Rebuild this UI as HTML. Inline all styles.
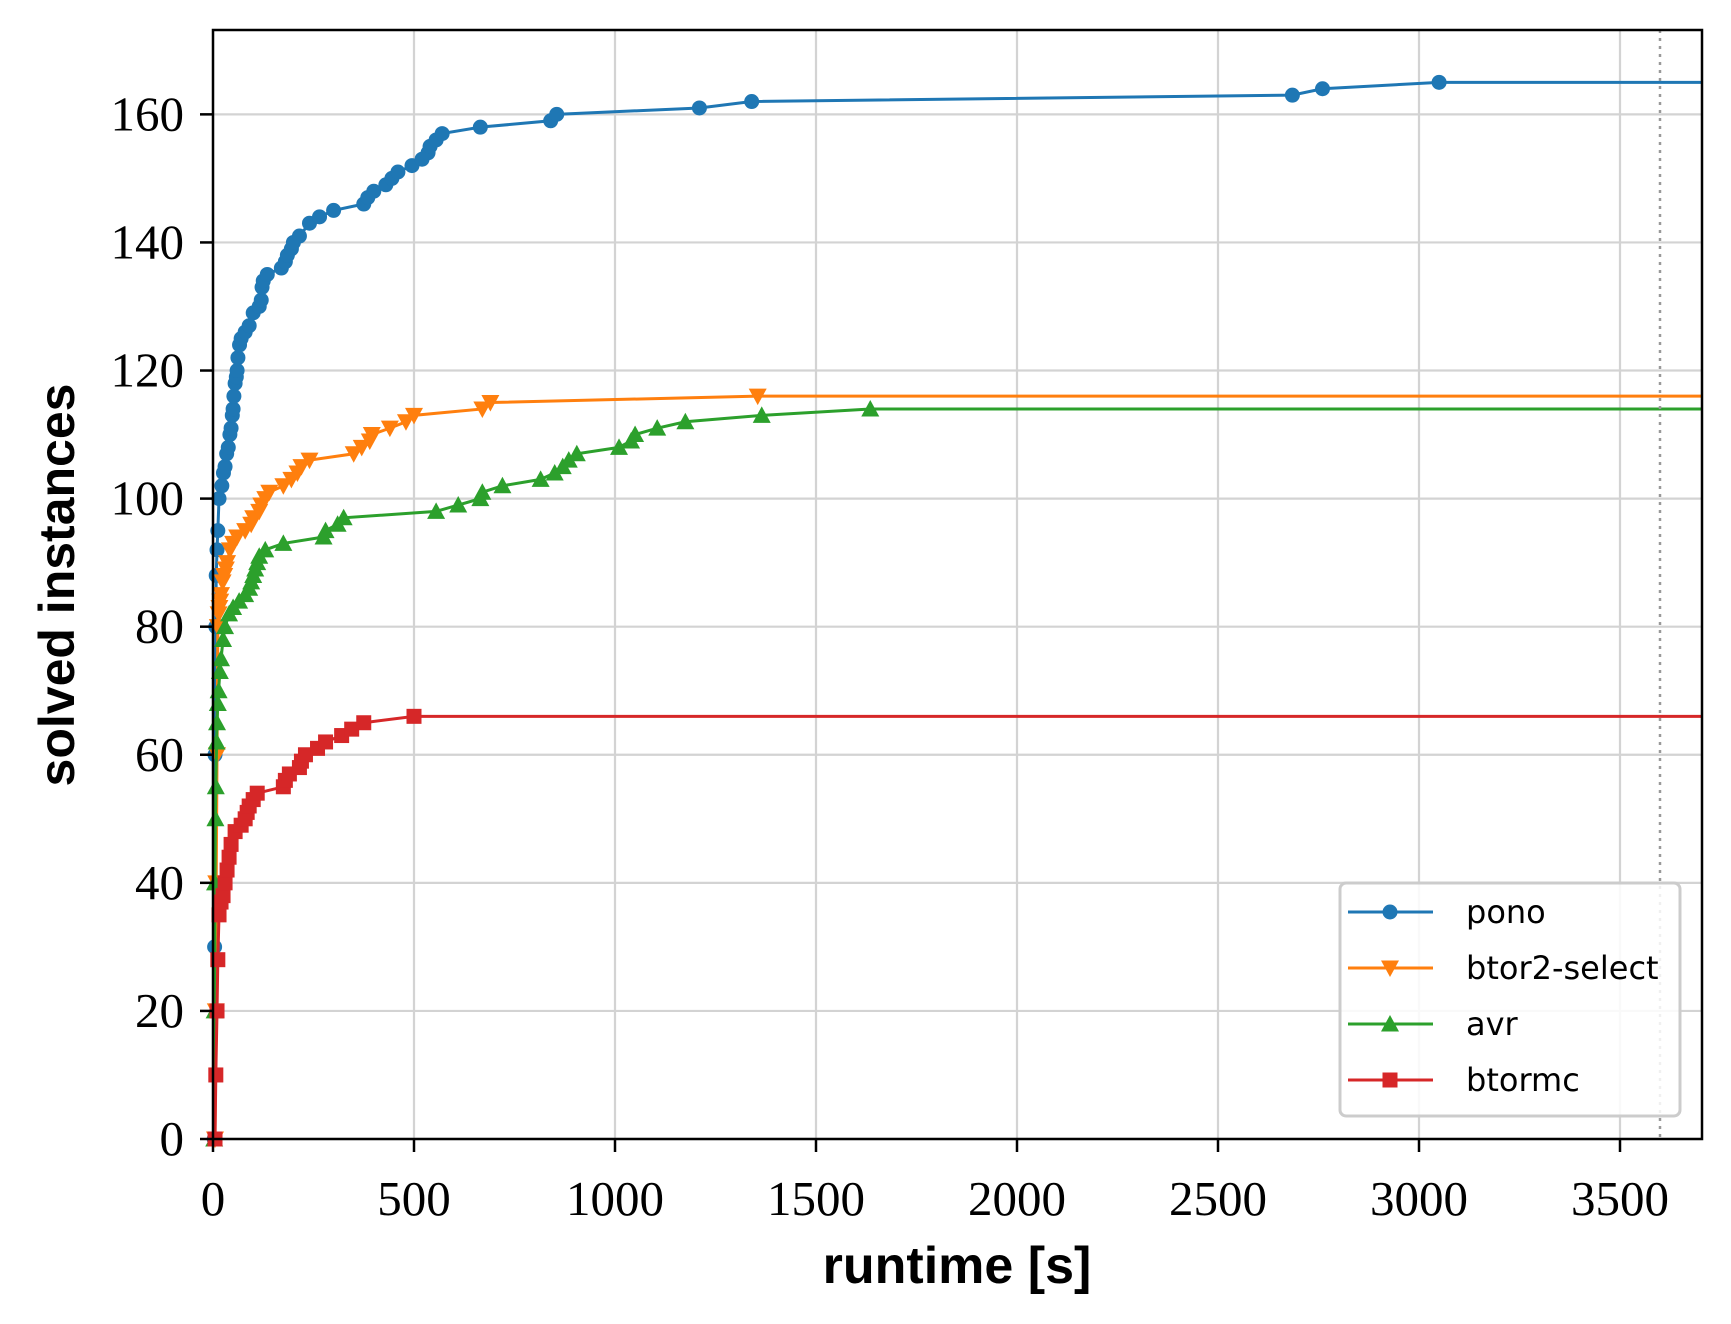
<!DOCTYPE html>
<html><head><meta charset="utf-8"><style>body{margin:0;background:#fff}svg{display:block}</style></head>
<body>
<svg id="s" width="1731" height="1324" xmlns="http://www.w3.org/2000/svg">
<rect width="1731" height="1324" fill="#fff"/>
<g id="grid" stroke="#d3d3d3" stroke-width="2.2"></g>
<g id="series"></g>
<line x1="1660" y1="30" x2="1660" y2="1139" stroke="#999" stroke-width="2.5" stroke-dasharray="3,5"/>
<rect x="213" y="30" width="1489" height="1109" fill="none" stroke="#000" stroke-width="2.5"/>
<g id="ticks" stroke="#000" stroke-width="2.5"></g>
<g id="labels" font-family="Liberation Serif, serif" font-size="49" fill="#000"></g>
<text x="957" y="1283" text-anchor="middle" font-family="Liberation Sans, sans-serif" font-weight="bold" font-size="52">runtime [s]</text>
<text transform="translate(74,585) rotate(-90)" text-anchor="middle" font-family="Liberation Sans, sans-serif" font-weight="bold" font-size="50">solved instances</text>
<g id="legend">
<rect x="1340" y="883" width="340" height="233" rx="6" fill="#fff" fill-opacity="0.85" stroke="#ccc" stroke-width="3"/>
</g>
</svg>
<script>
const NS="http://www.w3.org/2000/svg";
const X=t=>213+0.402*t, Y=v=>1139-6.404*v;
function el(p,tag,a){const e=document.createElementNS(NS,tag);for(const k in a)if(k!='text')e.setAttribute(k,a[k]);if(a.text!=null)e.textContent=a.text;document.getElementById(p).appendChild(e);return e;}
for(let t=0;t<=3500;t+=500){el('grid','line',{x1:X(t),x2:X(t),y1:30,y2:1139});el('ticks','line',{x1:X(t),x2:X(t),y1:1139,y2:1152});el('labels','text',{x:X(t),y:1215,'text-anchor':'middle',text:String(t)});}
for(let v=0;v<=160;v+=20){el('grid','line',{x1:213,x2:1702,y1:Y(v),y2:Y(v)});el('ticks','line',{x1:200,x2:213,y1:Y(v),y2:Y(v)});el('labels','text',{x:184,y:Y(v)+16,'text-anchor':'end',text:String(v)});}
const S=[
{c:'#1f77b4',m:'o',d:[[3,0],[4,30],[5,60],[7,80],[8,88],[10,92],[12,95],[15,100],[22,102],[26,104],[30,105],[34,107],[38,108],[42,110],[45,111],[48,113],[50,114],[52,116],[55,118],[58,119],[60,120],[62,122],[66,124],[70,125],[80,126],[90,127],[100,129],[115,130],[120,131],[122,133],[125,134],[135,135],[170,136],[180,137],[185,138],[195,139],[200,140],[215,141],[240,143],[265,144],[300,145],[375,146],[385,147],[400,148],[430,149],[445,150],[460,151],[495,152],[520,153],[535,154],[540,155],[555,156],[570,157],[665,158],[840,159],[855,160],[1210,161],[1340,162],[2685,163],[2760,164],[3050,165]]},
{c:'#ff7f0e',m:'v',d:[[5,0],[7,20],[8,40],[10,60],[12,80],[14,82],[16,83],[18,84],[20,85],[24,87],[28,88],[32,89],[35,90],[42,92],[50,93],[60,94],[80,95],[95,96],[100,97],[115,98],[120,99],[130,100],[140,101],[175,102],[195,103],[210,104],[220,105],[240,106],[350,107],[370,108],[390,109],[395,110],[440,111],[480,112],[500,113],[670,114],[690,115],[1355,116]]},
{c:'#2ca02c',m:'^',d:[[3,0],[4,20],[5,40],[6,50],[7,55],[9,62],[10,65],[12,68],[14,70],[17,73],[20,75],[25,78],[30,80],[40,82],[50,83],[65,84],[80,85],[90,86],[95,87],[100,88],[105,89],[110,90],[115,91],[130,92],[175,93],[275,94],[280,95],[310,96],[325,97],[555,98],[610,99],[665,100],[670,101],[720,102],[815,103],[850,104],[870,105],[885,106],[905,107],[1010,108],[1040,109],[1050,110],[1105,111],[1175,112],[1365,113],[1635,114]]},
{c:'#d62728',m:'s',d:[[5,0],[7,10],[10,20],[12,28],[15,35],[20,37],[25,38],[30,40],[35,42],[40,44],[45,46],[55,48],[70,49],[80,50],[85,51],[90,52],[100,53],[110,54],[175,55],[180,56],[190,57],[215,58],[220,59],[230,60],[260,61],[280,62],[320,63],[345,64],[375,65],[500,66]]}
];
function marker(p,m,x,y,c,r){
 if(m=='o')el(p,'circle',{cx:x,cy:y,r:r,fill:c});
 else if(m=='s')el(p,'rect',{x:x-r,y:y-r,width:2*r,height:2*r,fill:c});
 else if(m=='v')el(p,'polygon',{points:`${x-r*1.2},${y-r} ${x+r*1.2},${y-r} ${x},${y+r*1.2}`,fill:c});
 else el(p,'polygon',{points:`${x-r*1.2},${y+r} ${x+r*1.2},${y+r} ${x},${y-r*1.2}`,fill:c});
}
S.forEach(s=>{
 let pts=s.d.map(p=>X(p[0])+','+Y(p[1])); const last=s.d[s.d.length-1];
 pts.push(X(3704)+','+Y(last[1]));
 el('series','polyline',{points:pts.join(' '),fill:'none',stroke:s.c,'stroke-width':3});
 s.d.forEach(p=>marker('series',s.m,X(p[0]),Y(p[1]),s.c,7.5));
});
const names=['pono','btor2-select','avr','btormc'];
S.forEach((s,i)=>{const y=912+56*i;
 el('legend','line',{x1:1348,x2:1433,y1:y,y2:y,stroke:s.c,'stroke-width':3});
 marker('legend',s.m,1390,y,s.c,7.5);
 el('legend','text',{x:1466,y:y+11,'font-family':'DejaVu Sans, sans-serif','font-size':32,text:names[i]});
});
</script>
</body></html>
